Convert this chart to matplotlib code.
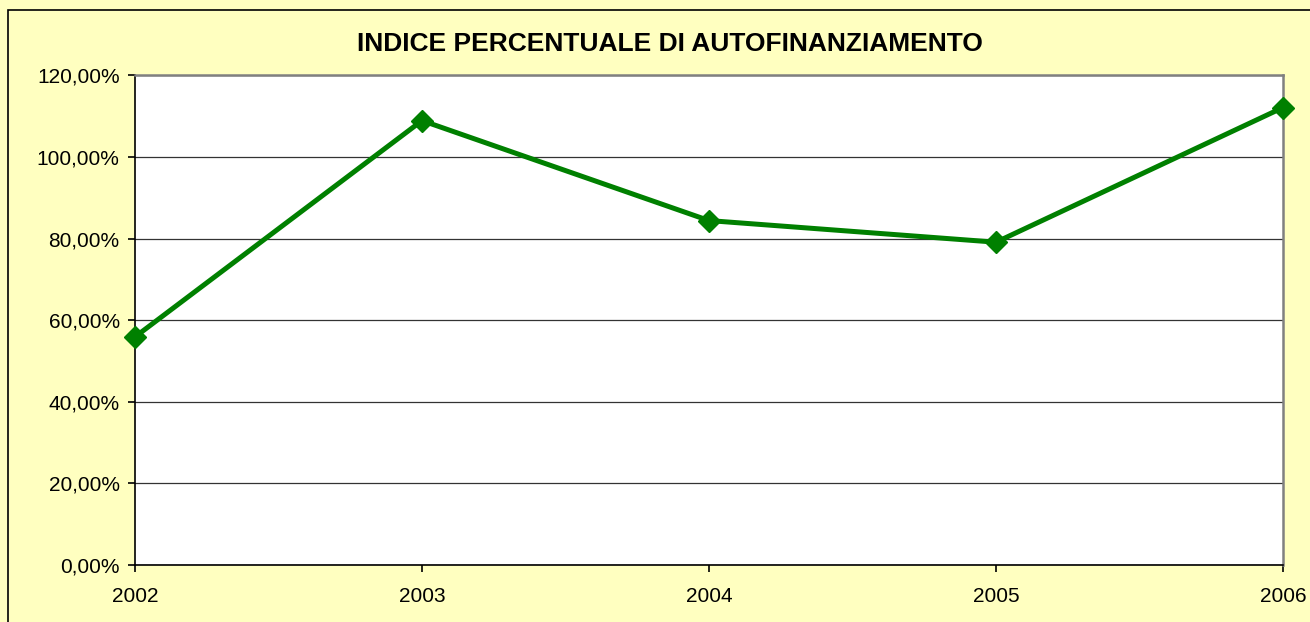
import matplotlib
matplotlib.use("Agg")
import matplotlib.pyplot as plt
from matplotlib.patches import Rectangle
from matplotlib.ticker import FuncFormatter

years = ["2002", "2003", "2004", "2005", "2006"]
indice_pct = [55.9, 108.9, 84.4, 79.1, 112.1]
y_ticks = [0, 20, 40, 60, 80, 100, 120]

plt.rcParams["font.family"] = ["Liberation Sans", "DejaVu Sans"]

bg = "#FFFFC0"
green = "#008000"

fig = plt.figure(figsize=(13.1, 6.22), dpi=100, facecolor=bg)
ax = fig.add_axes([135 / 1310, 1 - 565 / 622, (1283 - 135) / 1310, (565 - 75.3) / 622])
ax.set_facecolor("white")

# outer chart border (only left/top edges fall inside the image)
fig.patches.append(Rectangle((8 / 1310, -0.05), 1.2, 1 - 10 / 622 + 0.05,
                             transform=fig.transFigure, fill=False,
                             edgecolor="black", linewidth=1.2, zorder=0))

x = list(range(len(years)))
ax.plot(x, indice_pct, color=green, linewidth=3.6, marker="D", markersize=11.5,
        markerfacecolor=green, markeredgecolor=green, clip_on=False, zorder=5)

ax.set_xlim(0, len(years) - 1)
ax.set_ylim(0, 120)
ax.set_xticks(x)
ax.set_xticklabels(years)
ax.set_yticks(y_ticks)
ax.yaxis.set_major_formatter(FuncFormatter(lambda v, p: f"{v:.2f}%".replace(".", ",")))

ax.grid(axis="y", color="#333333", linewidth=0.9)
ax.set_axisbelow(True)

for side in ("top", "right"):
    ax.spines[side].set_color("#808080")
    ax.spines[side].set_linewidth(1.8)
for side in ("left", "bottom"):
    ax.spines[side].set_color("black")
    ax.spines[side].set_linewidth(1.2)

ax.tick_params(axis="y", direction="out", length=5, width=1.2, pad=6, labelsize=15)
ax.tick_params(axis="x", direction="out", length=5, width=1.2, pad=11, labelsize=15)

fig.text(670 / 1310, 1 - 44 / 622, "INDICE PERCENTUALE DI AUTOFINANZIAMENTO",
         ha="center", va="center", fontsize=19, fontweight="bold")

fig.savefig("out.png", dpi=100, facecolor=bg)
